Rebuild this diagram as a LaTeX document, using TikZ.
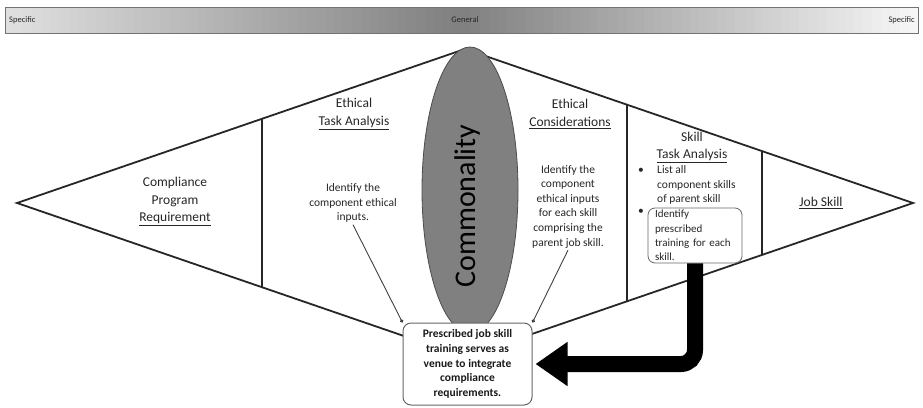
\documentclass[tikz,border=0pt]{standalone}
\usepackage{fontspec}
\setmainfont{Carlito}
\usetikzlibrary{arrows.meta,shapes.geometric,calc}
\begin{document}
\begin{tikzpicture}[x=1pt,y=-1pt,
  edge/.style={draw=black!85, line width=1.8pt},
  hdr/.style={font=\fontsize{13.5}{17.5}\selectfont, align=center, text=black!85, inner sep=2pt},
  body/.style={font=\fontsize{11.5}{14.6}\selectfont, align=center, text=black!85, inner sep=2pt},
  bartext/.style={font=\fontsize{8.5}{10}\selectfont, text=black!85, inner sep=1pt},
  pointer/.style={draw=black!75, line width=0.9pt, -{Circle[length=3.5pt]}},
  roundbox/.style={draw=black!60, fill=white, rounded corners=8pt},
  bigarrow/.style={draw=black, line width=16pt, rounded corners=14pt, -{Triangle[length=32pt,width=42pt]}},
]
\useasboundingbox (0,0) rectangle (923,407);
% header bar gradient (drawn as strips)
\foreach \i in {0,...,99}{
  \pgfmathsetmacro{\t}{(\i+0.5)/100}
  \pgfmathsetmacro{\p}{ifthenelse(\t<0.5, 12+76*\t, 97-94*\t)}
  \fill[black!\p] ({5+\i*9.13},7) rectangle ({5+(\i+1)*9.13+0.6},33);
}
\node[draw=black!55, line width=0.8pt, minimum width=913, minimum height=26, inner sep=0pt] (bar) at (461.5,20) {};
\node[bartext, anchor=west] (specL) at (8,20) {Specific};
\node[bartext] (general) at (465,20) {General};
\node[bartext, anchor=east] (specR) at (916,20) {Specific};
% diamond
\coordinate (L) at (17,203);
\coordinate (T) at (465,49);
\coordinate (R) at (913,203);
\coordinate (B) at (465,357);
\draw[edge, line join=miter] (L) -- (T) -- (R) -- (B) -- cycle;
\draw[edge] ($(L)!0.5469!(T)$) -- ($(L)!0.5469!(B)$);
\draw[edge] ($(T)!0.3616!(R)$) -- ($(B)!0.3616!(R)$);
\draw[edge] ($(T)!0.6629!(R)$) -- ($(B)!0.6629!(R)$);
% commonality ellipse
\node[ellipse, draw=black!70, line width=0.8pt, fill=black!50, minimum width=96, minimum height=286, inner sep=0pt] (ell) at (470,190) {};
\node[rotate=90, font=\fontsize{30}{36}\selectfont, text=black] (comm) at (467,206) {Commonality};
% texts
\node[hdr] (comp) at (175,201.5) {Compliance\\Program\\\underline{Requirement}};
\node[hdr, font=\fontsize{13.5}{18}\selectfont] (eta) at (354,114) {Ethical\\\underline{Task Analysis}};
\node[body] (ethin) at (353,203) {Identify the\\component ethical\\inputs.};
\node[hdr, font=\fontsize{13.5}{18}\selectfont] (ecs) at (570,114) {Ethical\\\underline{Considerations}};
\node[body] (ethcons) at (568,206.5) {Identify the\\component\\ethical inputs\\for each skill\\comprising the\\parent job skill.};
\node[hdr, font=\fontsize{13.5}{17}\selectfont] (sta) at (692,147.5) {Skill\\\underline{Task Analysis}};
\node[body] (bul1) at (641,171) {•};
\node[body, align=left, anchor=west] (list) at (655,185) {List all\\component skills\\of parent skill};
\node[body] (bul2) at (641,212) {•};
\node[hdr] (job) at (821,203) {\underline{Job Skill}};
% venue box and pointers
\node[roundbox, line width=1pt, minimum width=129, minimum height=82, align=center, inner sep=2pt,
      font=\bfseries\fontsize{11.5}{14.7}\selectfont, text=black!90] (venue) at (467.5,364)
      {Prescribed job skill\\training serves as\\venue to integrate\\compliance\\requirements.};
\draw[pointer] (ethin.south) -- (venue.north west);
\draw[pointer] (ethcons.south) -- (venue.north east);
% skill box
\node[roundbox, line width=0.8pt, rounded corners=7pt, minimum width=94, minimum height=55, text width=80, align=left, inner sep=2pt,
      font=\fontsize{11}{14.2}\selectfont, text=black!85] (trainbox) at (695,235.5)
      {Identify\\prescribed\\training for each\\skill.};
% thick arrow
\draw[bigarrow] (trainbox.south) |- ([xshift=3pt]venue.east);
\end{tikzpicture}
\end{document}
